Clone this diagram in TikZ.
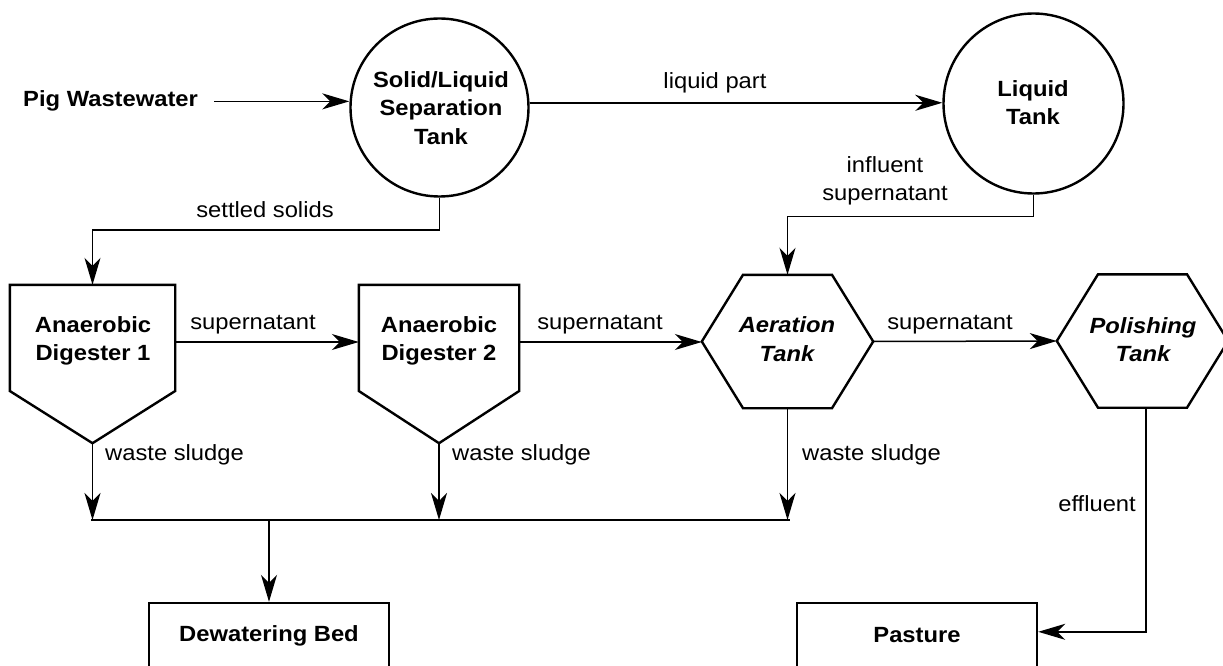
\documentclass[tikz,border=0pt]{standalone}
\usepackage{fontspec}
\setmainfont{Liberation Sans}[FakeStretch=1.08]
\usetikzlibrary{arrows.meta,calc}
\begin{document}
\begin{tikzpicture}[x=1pt,y=-1pt,
  every node/.style={font=\fontsize{22}{28.5}\selectfont, align=center},
  lbl/.style={inner sep=1pt},
  bname/.style={font=\fontsize{22}{28.5}\selectfont\bfseries, inner sep=0pt},
  iname/.style={font=\fontsize{22}{28.5}\selectfont\bfseries\itshape, inner sep=0pt},
  border/.style={line width=2.4pt, line join=miter},
  conn/.style={line width=1.5pt},
  arr/.style={conn, -{Stealth[length=27pt,width=16pt,inset=8pt]}},
  body/.style={draw=none, inner sep=0pt}
]
\fill[white] (0,0) rectangle (1223,666);
\useasboundingbox (0,0) rectangle (1223,666);
\clip (0,0) rectangle (1223,666);

% tanks (circles)
\node[circle, draw, border, minimum size=178pt, inner sep=0pt] (sep) at (439.5,107.5) {};
\node[bname] (sept) at (441,108) {Solid/Liquid\\Separation\\Tank};
\node[circle, draw, border, minimum size=180pt, inner sep=0pt] (lt) at (1033.5,103.5) {};
\node[bname] (ltt) at (1033,102.5) {Liquid\\Tank};

% input
\node[bname, anchor=base west] (pig) at (23,107) {Pig Wastewater};

% digesters
\node[body, minimum width=165pt, minimum height=114pt] (d1) at (92.5,342) {};
\draw[border] (d1.north west) -- (d1.north east) -- ($(d1.east)+(0,49)$)
  -- ($(d1.south)+(0,44)$) coordinate (d1tip) -- ($(d1.west)+(0,49)$) -- cycle;
\node[bname] (d1t) at (93,341) {Anaerobic\\Digester 1};

\node[body, minimum width=160pt, minimum height=114pt] (d2) at (439,342) {};
\draw[border] (d2.north west) -- (d2.north east) -- ($(d2.east)+(0,49)$)
  -- ($(d2.south)+(0,44)$) coordinate (d2tip) -- ($(d2.west)+(0,49)$) -- cycle;
\node[bname] (d2t) at (439,341) {Anaerobic\\Digester 2};

% hexagons
\node[body, minimum width=171pt, minimum height=133pt] (aer) at (787.5,341.5) {};
\draw[border] (aer.west) -- ($(aer.north)+(-44.5,0)$) -- ($(aer.north)+(44.5,0)$)
  -- (aer.east) -- ($(aer.south)+(44.5,0)$) -- ($(aer.south)+(-44.5,0)$) -- cycle;
\node[iname] (aert) at (787,339) {Aeration\\Tank};

\node[body, minimum width=171pt, minimum height=133pt] (pol) at (1142.5,341) {};
\draw[border] (pol.west) -- ($(pol.north)+(-44.5,0)$) -- ($(pol.north)+(44.5,0)$)
  -- (pol.east) -- ($(pol.south)+(44.5,0)$) -- ($(pol.south)+(-44.5,0)$) -- cycle;
\node[iname] (polt) at (1143,339.5) {Polishing\\Tank};

% boxes at the bottom
\node[draw, border, minimum width=240pt, minimum height=80pt, inner sep=0pt] (dw) at (269,643) {};
\node[bname] (dwt) at (269,636) {Dewatering Bed};
\node[draw, border, minimum width=240pt, minimum height=80pt, inner sep=0pt] (pas) at (917,643) {};
\node[bname] (past) at (917,635) {Pasture};

% connectors
\draw[arr, shorten <=16pt] (pig.east) -- (pig.east -| sep.west);
\draw[arr] (sep.3) -- (sep.3 -| lt.west);
\draw[arr] (sep.south) -- ++(0,32.5) -| (d1.north);
\draw[arr] (lt.south) -- ++(0,22) -| (aer.north);
\draw[arr] (d1.east) -- (d2.west);
\draw[arr] (d2.east) -- (d2.east -| aer.west);
\draw[arr] (aer.east) -- (pol.west);

\coordinate (cl) at (91,520);
\coordinate (cr) at (790,520);
\draw[conn] (cl) -- (cr);
\draw[arr] (d1tip) -- (d1tip |- cl);
\draw[arr] (d2tip) -- (d2tip |- cl);
\draw[arr] (aer.south) -- (aer.south |- cl);
\draw[arr] (dw.north |- cl) -- (dw.north);
\draw[arr] ($(pol.south)+(3.5,0)$) |- ($(pas.north east)+(0,30)$);

% labels
\node[lbl] (l1) at (265,210) {settled solids};
\node[lbl] (l2) at (715,83) {liquid part};
\node[lbl] (l3) at (885,181) {influent\\supernatant};
\node[lbl] (l4) at (253,325) {supernatant};
\node[lbl] (l5) at (600,325) {supernatant};
\node[lbl] (l6) at (950,325) {supernatant};
\node[lbl, anchor=west] (l7) at (104,455) {waste sludge};
\node[lbl, anchor=west] (l8) at (451,455) {waste sludge};
\node[lbl, anchor=west] (l9) at (801,455) {waste sludge};
\node[lbl, anchor=east] (l10) at (1137,504) {effluent};
\end{tikzpicture}
\end{document}
